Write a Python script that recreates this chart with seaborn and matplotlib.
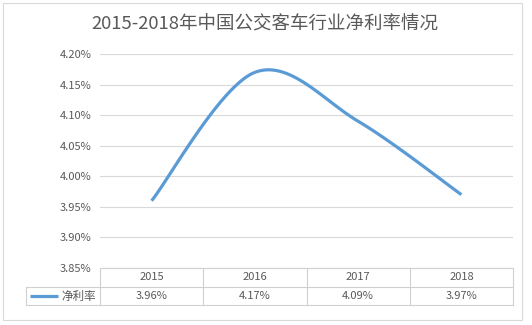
import numpy as np
import pandas as pd
import matplotlib
matplotlib.use("Agg")
import matplotlib.pyplot as plt
from matplotlib.lines import Line2D
from matplotlib.patches import Rectangle
import seaborn as sns

# ---- data ----
title = "2015-2018年中国公交客车行业净利率情况"
years = ["2015", "2016", "2017", "2018"]
net_margin = [3.96, 4.17, 4.09, 3.97]
value_labels = ["3.96%", "4.17%", "4.09%", "3.97%"]
series_name = "净利率"
y_ticks = [3.85, 3.90, 3.95, 4.00, 4.05, 4.10, 4.15, 4.20]

sns.set_theme(style="white")
plt.rcParams['font.family'] = ['Noto Sans CJK SC', 'DejaVu Sans']

W, H = 532, 325
fig = plt.figure(figsize=(W / 100, H / 100), dpi=100)
fig.patch.set_facecolor("white")

def fx(x):
    return x / W

def fy(y):
    return 1 - y / H

TXT = "#595959"
GRID = "#D9D9D9"
LINE = "#5B9BD5"

L, R, T, B = 100, 513, 54, 268
ax = fig.add_axes([fx(L), fy(B), fx(R) - fx(L), fy(T) - fy(B)])

# smoothed line (Catmull-Rom Bezier like Excel's smoothing)
xs = np.arange(len(net_margin), dtype=float)
ys = np.array(net_margin, dtype=float)
n = len(xs)
px, py = [], []
t = np.linspace(0, 1, 40)
for i in range(n - 1):
    p0 = np.array([xs[max(i - 1, 0)], ys[max(i - 1, 0)]])
    p1 = np.array([xs[i], ys[i]])
    p2 = np.array([xs[i + 1], ys[i + 1]])
    p3 = np.array([xs[min(i + 2, n - 1)], ys[min(i + 2, n - 1)]])
    c1 = p1 + (p2 - p0) / 6
    c2 = p2 - (p3 - p1) / 6
    for tt in t:
        b = ((1 - tt) ** 3) * p1 + 3 * ((1 - tt) ** 2) * tt * c1 + 3 * (1 - tt) * tt ** 2 * c2 + tt ** 3 * p2
        px.append(b[0]); py.append(b[1])
df = pd.DataFrame({"x": px, "y": py})
sns.lineplot(data=df, x="x", y="y", sort=False, ax=ax, color=LINE, lw=2.3,
             solid_capstyle="butt")

ax.set_xlim(-0.5, len(years) - 0.5)
ax.set_ylim(y_ticks[0], y_ticks[-1])
ax.set_yticks(y_ticks)
ax.set_yticklabels([f"{v:.2f}%" for v in y_ticks], color=TXT, fontsize=8)
ax.set_xticks([])
ax.set_xlabel("")
ax.set_ylabel("")
ax.tick_params(axis="y", length=0, pad=6)
ax.grid(axis="y", color=GRID, lw=0.8)
ax.set_axisbelow(True)
for s in ax.spines.values():
    s.set_visible(False)
ax.set_facecolor("none")

# title
fig.text(fx(265), fy(25), title, ha="center", va="center", fontsize=13.3, color=TXT)

# outer border
fig.add_artist(Rectangle((fx(3), fy(320)), fx(522) - fx(3), fy(3) - fy(320),
                         transform=fig.transFigure, fill=False, ec="#D9D9D9", lw=0.8))

# data table
TB = "#D0D0D0"
def hline(x0, x1, y):
    fig.add_artist(Line2D([fx(x0), fx(x1)], [fy(y), fy(y)], transform=fig.transFigure, color=TB, lw=0.8))

def vline(x, y0, y1):
    fig.add_artist(Line2D([fx(x), fx(x)], [fy(y0), fy(y1)], transform=fig.transFigure, color=TB, lw=0.8))

r0, r1, r2 = 268, 287, 305
hline(L, R, r0)
hline(26, R, r1)
hline(26, R, r2)
vline(26, r1, r2)
colw = (R - L) / len(years)
for i in range(len(years) + 1):
    vline(L + i * colw, r0, r2)
for i, (yr, lab) in enumerate(zip(years, value_labels)):
    cx = L + (i + 0.5) * colw
    fig.text(fx(cx), fy((r0 + r1) / 2), yr, ha="center", va="center", fontsize=8, color=TXT)
    fig.text(fx(cx), fy((r1 + r2) / 2), lab, ha="center", va="center", fontsize=8, color=TXT)

fig.add_artist(Line2D([fx(30), fx(58)], [fy(296), fy(296)], transform=fig.transFigure,
                      color=LINE, lw=2.3, solid_capstyle="butt"))
fig.text(fx(61), fy(296), series_name, ha="left", va="center", fontsize=8.3, color=TXT)

fig.savefig("out.png", dpi=100, facecolor="white")
